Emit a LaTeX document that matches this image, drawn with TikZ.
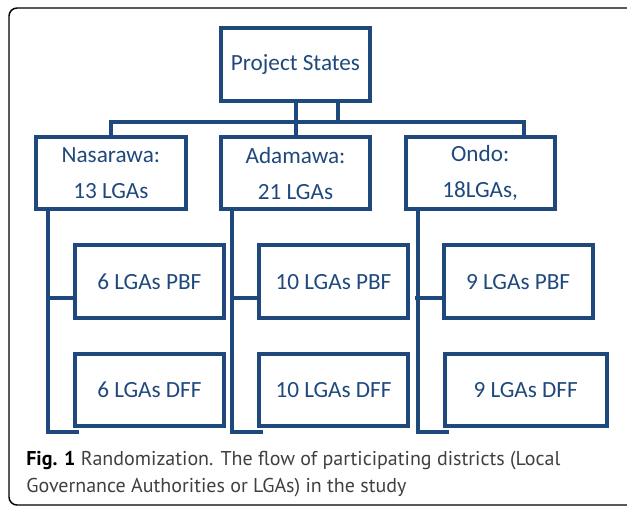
\documentclass[tikz,border=0pt]{standalone}
\usepackage{fontspec}
\setmainfont{Carlito}
\newfontfamily\capfont{PT Sans}
\usepackage{tikz}
\usetikzlibrary{positioning}
\definecolor{darkblue}{RGB}{31,73,125}
\definecolor{capgray}{RGB}{64,64,64}
\tikzset{
  box/.style={
    rectangle, draw=darkblue, line width=3pt,
    text=darkblue, align=center,
    font=\fontsize{17.4}{27}\selectfont,
    minimum width=112pt, minimum height=54.4pt,
    inner sep=0pt,
    node distance=24pt and 23.5pt
  },
  conn/.style={ % style for the connectors
    draw=darkblue, line width=3pt, line cap=rect
  },
}
\begin{document}
\begin{tikzpicture}[x=0.75pt,y=-0.75pt]
		\useasboundingbox (0,0) rectangle (627,506);
		\clip (0,0) rectangle (627,506);
		% frame
		\draw[line width=1.1pt, rounded corners=6pt] (9,8) rectangle (680,505);
		% top level
		\node[box] (top) at (295.5,64.5) {Project States};
		\node[box, below=of top] (ada) {Adamawa:\\21 LGAs};
		\node[box, left=of ada] (nas) {Nasarawa:\\13 LGAs};
		\node[box, right=of ada] (ond) {Ondo:\\18LGAs,};
		\draw[conn] (top.south) -- (ada.north);
		\draw[conn] ([xshift=31.9pt]top.south) -- ++(0,19);
		\draw[conn] (nas.north) -- ++(0,-13) -| ([xshift=32.6pt]ond.north);
		% Nasarawa
		\node[box, below=of nas, xshift=28.9pt] (naspbf) {6 LGAs PBF};
		\node[box, below=of naspbf] (nasdff) {6 LGAs DFF};
		\draw[conn] ([xshift=-18.5pt]nasdff.west |- nas.south) |- ([yshift=-3pt]nasdff.south west) -- ++(3pt,0);
		\draw[conn] ([yshift=-12pt]naspbf.west) -- ++(-18.5pt,0);
		% Adamawa
		\node[box, below=of ada, xshift=28.5pt] (adapbf) {10 LGAs PBF};
		\node[box, below=of adapbf] (adadff) {10 LGAs DFF};
		\draw[conn] ([xshift=-18.5pt]adadff.west |- ada.south) |- ([yshift=-3pt]adadff.south west) -- ++(3pt,0);
		\draw[conn] ([yshift=-12pt]adapbf.west) -- ++(-18.5pt,0);
		% Ondo
		\node[box, below=of ond, xshift=28.5pt] (ondpbf) {9 LGAs PBF};
		\node[box, below=of ondpbf, xshift=5.6pt, minimum width=121.5pt] (onddff) {9 LGAs DFF};
		\draw[conn] ([xshift=-18.5pt]onddff.west |- ond.south) |- ([yshift=-3pt]onddff.south west) -- ++(3pt,0);
		\draw[conn] ([yshift=-12pt]ondpbf.west) -- ++(-18.5pt,0);
		% caption
		\node[anchor=base west, align=left, text=capgray, inner sep=0pt,
		  font=\capfont\fontsize{15}{20.25}\selectfont] (cap) at (26,492)
		  {{\color{black}\bfseries Fig. 1} Randomization. The flow of participating districts (Local\\
		   Governance Authorities or LGAs) in the study};
	\end{tikzpicture}
\end{document}
